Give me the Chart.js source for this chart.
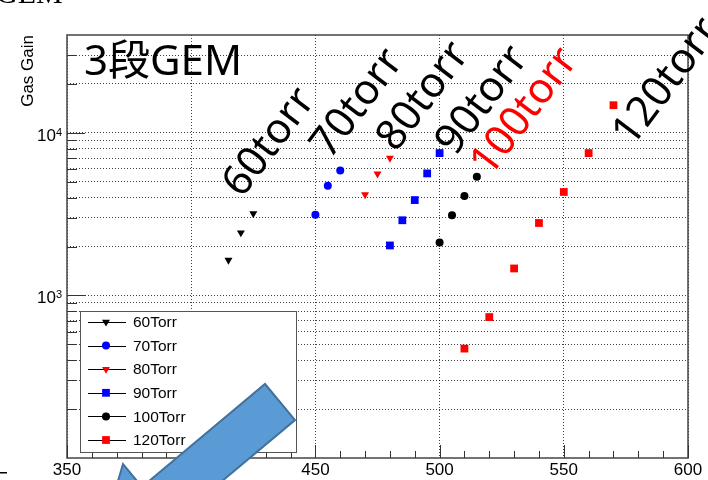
<!DOCTYPE html>
<html>
<head>
<meta charset="utf-8">
<script src="https://cdn.jsdelivr.net/npm/chart.js@4.4.1/dist/chart.umd.min.js"></script>
<style>
  html, body { margin: 0; padding: 0; background: #fff; }
  canvas { display: block; }
</style>
</head>
<body>
<canvas id="gainChart" width="708" height="480"></canvas>
<script>
// GEM voltage (V) vs gas gain
const seriesNames = ["60Torr", "70Torr", "80Torr", "90Torr", "100Torr", "120Torr"];
const voltage60 = [415, 420, 425];
const gain60 = [1650, 2430, 3190];
const voltage70 = [450, 455, 460];
const gain70 = [3140, 4730, 5870];
const voltage80 = [470, 475, 480];
const gain80 = [4170, 5600, 6990];
const voltage90 = [480, 485, 490, 495, 500];
const gain90 = [2030, 2900, 3860, 5630, 7510];
const voltage100 = [500, 505, 510, 515];
const gain100 = [2120, 3110, 4090, 5370];
const voltage120 = [510, 520, 530, 540, 550, 560, 570];
const gain120 = [471, 736, 1465, 2790, 4330, 7510, 14800];

const xTickValues = [350, 400, 450, 500, 550, 600];
const yGridValues = [200, 300, 400, 500, 600, 700, 800, 900, 1000,
  2000, 3000, 4000, 5000, 6000, 7000, 8000, 9000, 10000, 20000, 30000];
const yLabelValues = [1000, 10000];
const pressureLabels = ["60torr", "70torr", "80torr", "90torr", "100torr", "120torr"];

function toPoints(xs, ys) {
  return xs.map((x, i) => ({ x: x, y: ys[i] }));
}

const markerStyles = [
  { color: "#000000", pointStyle: "triangle", rotation: 180, radius: 4.6 },
  { color: "#0000ff", pointStyle: "circle", rotation: 0, radius: 4 },
  { color: "#ff0000", pointStyle: "triangle", rotation: 180, radius: 4.6 },
  { color: "#0000ff", pointStyle: "rect", rotation: 0, radius: 5.5 },
  { color: "#000000", pointStyle: "circle", rotation: 0, radius: 4 },
  { color: "#ff0000", pointStyle: "rect", rotation: 0, radius: 5.5 },
];

const seriesData = [
  toPoints(voltage60, gain60),
  toPoints(voltage70, gain70),
  toPoints(voltage80, gain80),
  toPoints(voltage90, gain90),
  toPoints(voltage100, gain100),
  toPoints(voltage120, gain120),
];

const datasets = seriesNames.map((name, i) => ({
  label: name,
  data: seriesData[i],
  showLine: false,
  pointStyle: markerStyles[i].pointStyle,
  pointRotation: markerStyles[i].rotation,
  pointRadius: markerStyles[i].radius,
  pointBackgroundColor: markerStyles[i].color,
  pointBorderColor: markerStyles[i].color,
  pointBorderWidth: 0,
}));

// big hand-written annotations on the slide (baseline start, rotated)
const labelPlacement = [
  { x: 242, y: 199, color: "#000" },
  { x: 330, y: 160, color: "#000" },
  { x: 396, y: 153, color: "#000" },
  { x: 455, y: 157, color: "#000" },
  { x: 490, y: 178, color: "#ff0000" },
  { x: 632, y: 148, color: "#000" },
];

const rootStylePlugin = {
  id: "rootStyle",
  afterDraw(chart) {
    const ctx = chart.ctx;
    const area = chart.chartArea;
    const xScale = chart.scales.x;
    const yScale = chart.scales.y;

    ctx.save();

    // frame
    ctx.strokeStyle = "#444";
    ctx.lineWidth = 1.5;
    ctx.strokeRect(area.left, area.top, area.right - area.left, area.bottom - area.top);

    // inner ticks, ROOT style
    ctx.strokeStyle = "#333";
    ctx.lineWidth = 1;
    ctx.beginPath();
    for (let v = 350; v <= 600; v += 10) {
      const px = Math.round(xScale.getPixelForValue(v)) + 0.5;
      const len = v % 50 === 0 ? 13 : 7;
      ctx.moveTo(px, area.bottom);
      ctx.lineTo(px, area.bottom - len);
    }
    yGridValues.forEach((v) => {
      const py = Math.round(yScale.getPixelForValue(v)) + 0.5;
      const len = yLabelValues.includes(v) ? 18 : 10;
      ctx.moveTo(area.left, py);
      ctx.lineTo(area.left + len, py);
    });
    ctx.stroke();

    // x tick labels
    ctx.fillStyle = "#000";
    ctx.font = '17px "Liberation Sans", Arial, sans-serif';
    ctx.textAlign = "center";
    ctx.textBaseline = "alphabetic";
    xTickValues.forEach((v) => {
      ctx.fillText(String(v), xScale.getPixelForValue(v), 475);
    });

    // y tick labels 10^n
    yLabelValues.forEach((v) => {
      const py = yScale.getPixelForValue(v);
      const expText = String(Math.round(Math.log10(v)));
      ctx.font = '11px "Liberation Sans", Arial, sans-serif';
      ctx.textAlign = "right";
      const expWidth = ctx.measureText(expText).width;
      ctx.fillText(expText, 62, py + 3);
      ctx.font = '17px "Liberation Sans", Arial, sans-serif';
      ctx.fillText("10", 62 - expWidth, py + 8);
    });

    // y axis title
    ctx.save();
    ctx.translate(33, area.top);
    ctx.rotate(-Math.PI / 2);
    ctx.font = '17px "Liberation Sans", Arial, sans-serif';
    ctx.textAlign = "right";
    ctx.fillText("Gas Gain", 0, 0);
    ctx.restore();

    // legend box
    const legendLeft = 80, legendTop = 311, legendRight = 296, legendBottom = 452;
    ctx.fillStyle = "#fff";
    ctx.fillRect(legendLeft, legendTop, legendRight - legendLeft, legendBottom - legendTop);
    ctx.strokeStyle = "#555";
    ctx.lineWidth = 1;
    ctx.strokeRect(legendLeft + 0.5, legendTop + 0.5, legendRight - legendLeft, legendBottom - legendTop);
    ctx.font = '15.5px "Liberation Sans", Arial, sans-serif';
    ctx.textAlign = "left";
    ctx.textBaseline = "middle";
    chart.data.datasets.forEach((ds, i) => {
      const rowY = legendTop + 11 + i * 23.6;
      ctx.strokeStyle = "#000";
      ctx.beginPath();
      ctx.moveTo(88, Math.round(rowY) + 0.5);
      ctx.lineTo(126, Math.round(rowY) + 0.5);
      ctx.stroke();
      ctx.fillStyle = ds.pointBackgroundColor;
      Chart.helpers.drawPoint(ctx, {
        pointStyle: ds.pointStyle,
        rotation: ds.pointRotation,
        radius: ds.pointRadius,
        borderWidth: 0,
      }, 106, rowY);
      ctx.fillStyle = "#000";
      ctx.fillText(ds.label, 133, rowY + 1);
    });

    // slide title
    ctx.textBaseline = "alphabetic";
    ctx.font = '42px "Noto Sans", "Noto Sans CJK JP", sans-serif';
    ctx.fillStyle = "#000";
    ctx.fillText("3段GEM", 84, 75);

    // leftover slide text cut off at the top edge
    ctx.font = '30px "Liberation Serif", serif';
    ctx.fillText("GEM", -4, 3);

    // pressure annotations
    ctx.font = '42px "Noto Sans", sans-serif';
    pressureLabels.forEach((text, i) => {
      const p = labelPlacement[i];
      ctx.save();
      ctx.translate(p.x, p.y);
      ctx.rotate(-53 * Math.PI / 180);
      ctx.fillStyle = p.color;
      ctx.fillText(text, 0, 0);
      ctx.restore();
    });

    // blue arrow shape from the slide
    ctx.beginPath();
    ctx.moveTo(265, 384);
    ctx.lineTo(295, 420);
    ctx.lineTo(172, 523);
    ctx.lineTo(191, 546);
    ctx.lineTo(96, 556);
    ctx.lineTo(123, 464);
    ctx.lineTo(142, 487);
    ctx.closePath();
    ctx.fillStyle = "#5b9bd5";
    ctx.fill();
    ctx.strokeStyle = "#41719c";
    ctx.lineWidth = 2;
    ctx.stroke();

    // stray slide marks
    ctx.fillStyle = "#000";
    ctx.fillRect(0, 472, 7, 1.5);

    ctx.restore();
  },
};

const ctx = document.getElementById("gainChart").getContext("2d");
new Chart(ctx, {
  type: "scatter",
  data: { datasets: datasets },
  options: {
    responsive: false,
    animation: false,
    layout: { padding: { top: 35, right: 20, left: 0, bottom: 0 } },
    plugins: {
      legend: { display: false },
      tooltip: { enabled: false },
    },
    scales: {
      x: {
        type: "linear",
        min: 350,
        max: 600,
        afterBuildTicks: (axis) => {
          axis.ticks = xTickValues.map((v) => ({ value: v }));
        },
        afterFit: (scale) => { scale.height = 22; },
        ticks: { display: false },
        grid: { color: "rgba(0,0,0,0.75)", lineWidth: 1, drawTicks: false },
        border: { display: false, dash: [1, 2] },
      },
      y: {
        type: "logarithmic",
        min: 100,
        max: 40000,
        afterBuildTicks: (axis) => {
          axis.ticks = yGridValues.map((v) => ({ value: v }));
        },
        afterFit: (scale) => { scale.width = 67; },
        ticks: { display: false },
        grid: { color: "rgba(0,0,0,0.75)", lineWidth: 1, drawTicks: false },
        border: { display: false, dash: [1, 2] },
      },
    },
  },
  plugins: [rootStylePlugin],
});
</script>
</body>
</html>
